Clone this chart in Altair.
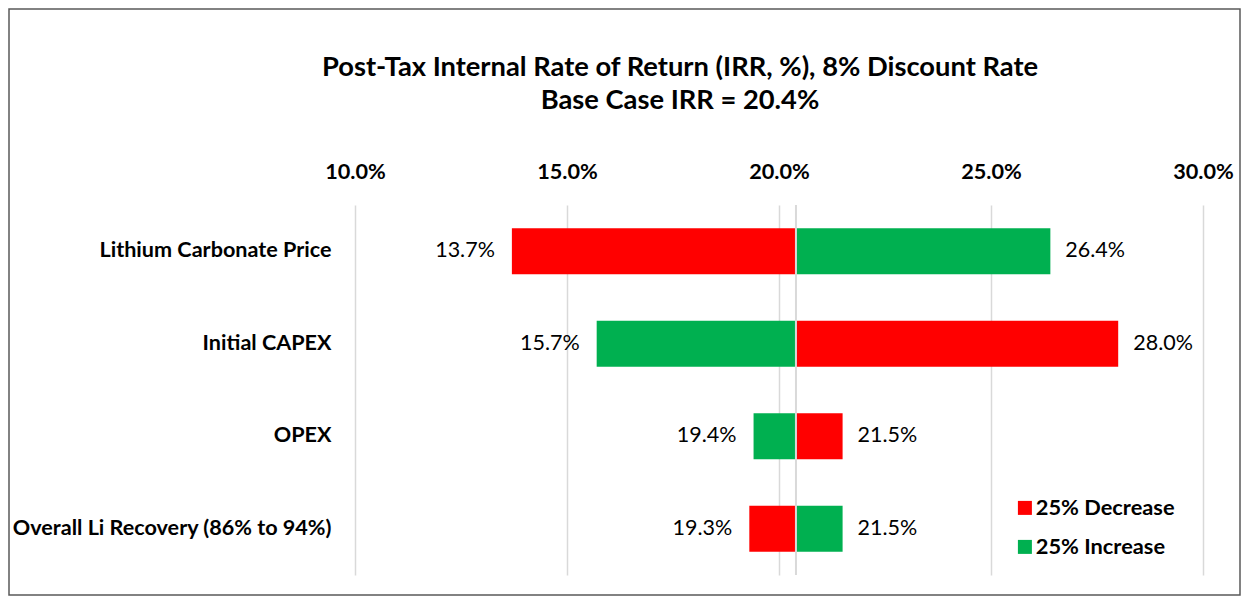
import altair as alt
import pandas as pd

categories = ["Lithium Carbonate Price", "Initial CAPEX", "OPEX", "Overall Li Recovery (86% to 94%)"]
low_values = [13.7, 15.7, 19.4, 19.3]
high_values = [26.4, 28.0, 21.5, 21.5]
low_scenario = ["25% Decrease", "25% Increase", "25% Increase", "25% Decrease"]
high_scenario = ["25% Increase", "25% Decrease", "25% Decrease", "25% Increase"]
base_irr = 20.4
x_ticks = [10, 15, 20, 25, 30]
scenarios = ["25% Decrease", "25% Increase"]
colors = ["#FF0000", "#00B050"]

FONT = "Lato"
W, H = 848, 370
PL, PT, PR, PB = 347, 197, 38, 21

rows = []
for c, lv, hv, ls, hs in zip(categories, low_values, high_values, low_scenario, high_scenario):
    rows.append({"category": c, "value": lv, "base": base_irr, "scenario": ls, "side": "low",
                 "label": f"{lv:.1f}%"})
    rows.append({"category": c, "value": hv, "base": base_irr, "scenario": hs, "side": "high",
                 "label": f"{hv:.1f}%"})
df = pd.DataFrame(rows)

xscale = alt.Scale(domain=[10, 30], nice=False, zero=False)
yscale = alt.Scale(domain=categories, paddingInner=0.5, paddingOuter=0.25)

x_enc = alt.X("value:Q", scale=xscale,
              axis=alt.Axis(orient="top", values=x_ticks, title=None, domain=False, ticks=False,
                            labelExpr="format(datum.value, '.1f') + '%'",
                            labelFlush=False, labelOverlap=False,
                            labelFont=FONT, labelFontSize=21.7, labelFontWeight="bold",
                            labelColor="#000000", labelPadding=22,
                            grid=True, gridColor="#D9D9D9", gridWidth=1.5))
y_enc = alt.Y("category:N", scale=yscale, sort=categories,
              axis=alt.Axis(title=None, domain=False, ticks=False, grid=False,
                            labelFont=FONT, labelFontSize=21.6, labelFontWeight="bold",
                            labelColor="#000000", labelPadding=24, labelLimit=400))

base = alt.Chart(df)

bars = base.mark_bar(size=46).encode(
    x=x_enc,
    x2="base:Q",
    y=y_enc,
    color=alt.Color("scenario:N", scale=alt.Scale(domain=scenarios, range=colors),
                    legend=alt.Legend(title=None, orient="none", legendX=659, legendY=292,
                                      symbolType="square", symbolSize=196, symbolStrokeWidth=0,
                                      labelFont=FONT, labelFontSize=21.8, labelFontWeight="bold",
                                      labelColor="#000000", rowPadding=16, labelOffset=0)),
)

low_text = base.transform_filter(alt.datum.side == "low").mark_text(
    align="right", baseline="middle", dx=-17, font=FONT, fontSize=21.5, color="#000000"
).encode(x=alt.X("value:Q", scale=xscale), y=alt.Y("category:N", scale=yscale, sort=categories),
         text="label:N")

high_text = base.transform_filter(alt.datum.side == "high").mark_text(
    align="left", baseline="middle", dx=15, font=FONT, fontSize=21.5, color="#000000"
).encode(x=alt.X("value:Q", scale=xscale), y=alt.Y("category:N", scale=yscale, sort=categories),
         text="label:N")

base_rule = alt.Chart(pd.DataFrame({"base": [base_irr]})).mark_rule(
    color="#D9D9D9", strokeWidth=2
).encode(x=alt.X("base:Q", scale=xscale), y=alt.value(0), y2=alt.value(H))

border = alt.Chart(pd.DataFrame({"b": [1]})).mark_rect(
    fill=None, stroke="#595959", strokeWidth=1.5
).encode(x=alt.value(-PL + 1), x2=alt.value(W + PR - 1), y=alt.value(-PT + 1), y2=alt.value(H + PB - 1))

chart = alt.layer(bars, base_rule, low_text, high_text, border).properties(
    width=W, height=H,
    background="#FFFFFF",
    padding={"left": PL, "top": PT, "right": PR, "bottom": PB},
    autosize=alt.AutoSizeParams(type="none"),
    title=alt.TitleParams(
        text=["Post-Tax Internal Rate of Return (IRR, %), 8% Discount Rate", "Base Case IRR = 20.4%"],
        font=FONT, fontSize=27.3, fontWeight="bold", color="#000000",
        anchor="middle", dx=-99, offset=0, dy=106, lineHeight=33),
).configure_view(strokeWidth=0)

chart.save("out.html", embed_options={"renderer": "svg", "actions": False})
